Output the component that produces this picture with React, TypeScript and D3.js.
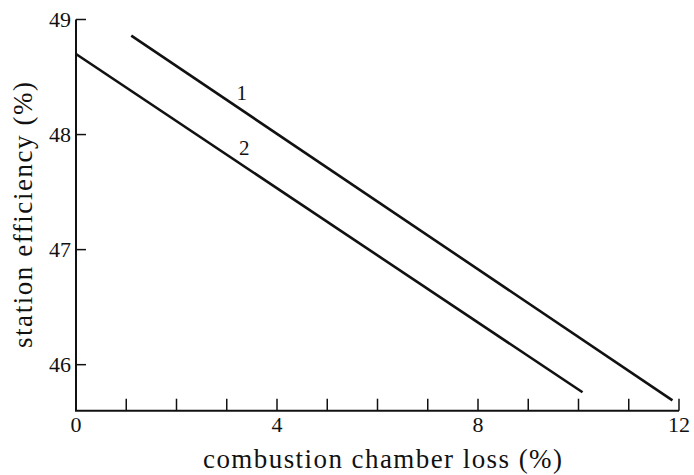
import React from "react";
import * as d3 from "d3";

const xTicksMinor = [0, 1, 2, 3, 4, 5, 6, 7, 8, 9, 10, 11, 12];
const xTickLabels = [0, 4, 8, 12];
const yTicks = [46, 47, 48, 49];
const line1X = [1.1, 11.87];
const line1Y = [48.86, 45.69];
const line2X = [0, 10.08];
const line2Y = [48.7, 45.76];
const seriesLabels = ["1", "2"];
const labelPos = [
  { x: 3.3, y: 48.3 },
  { x: 3.35, y: 47.82 },
];

export default function App() {
  const W = 694;
  const H = 475;
  const x = d3.scaleLinear().domain([0, 12]).range([76, 679]);
  const y = d3.scaleLinear().domain([45.6, 49]).range([410.7, 19.5]);
  const line = d3
    .line<[number, number]>()
    .x((d) => x(d[0]))
    .y((d) => y(d[1]));
  const s1: [number, number][] = line1X.map((v, i) => [v, line1Y[i]]);
  const s2: [number, number][] = line2X.map((v, i) => [v, line2Y[i]]);
  const font = "'Liberation Serif', 'DejaVu Serif', serif";
  const base = y(45.6);
  return (
    <svg
      width={W}
      height={H}
      style={{ position: "absolute", left: 0, top: 0, background: "#fff" }}
      fontFamily={font}
    >
      <rect width={W} height={H} fill="#fff" />
      {/* axes */}
      <line x1={x(0)} x2={x(0)} y1={y(49)} y2={base} stroke="#111" strokeWidth={2} />
      <line x1={x(0) - 1} x2={x(12)} y1={base} y2={base} stroke="#111" strokeWidth={2} />
      {xTicksMinor.slice(1).map((t) => (
        <line key={t} x1={x(t)} x2={x(t)} y1={base} y2={base - 12} stroke="#111" strokeWidth={1.5} />
      ))}
      {yTicks.map((t) => (
        <line key={t} x1={x(0)} x2={x(0) + 10} y1={y(t)} y2={y(t)} stroke="#111" strokeWidth={1.5} />
      ))}
      {xTickLabels.map((t) => (
        <text key={t} x={x(t)} y={432} fontSize={22} textAnchor="middle" fill="#111">
          {t}
        </text>
      ))}
      {yTicks.map((t) => (
        <text key={t} x={71} y={y(t) + 7.5} fontSize={22} textAnchor="end" fill="#111">
          {t}
        </text>
      ))}
      {/* series */}
      <path d={line(s1) || ""} fill="none" stroke="#111" strokeWidth={2.6} />
      <path d={line(s2) || ""} fill="none" stroke="#111" strokeWidth={2.6} />
      {seriesLabels.map((l, i) => (
        <text key={l} x={x(labelPos[i].x)} y={y(labelPos[i].y)} fontSize={21} textAnchor="middle" fill="#111">
          {l}
        </text>
      ))}
      {/* axis titles */}
      <text
        x={382.5}
        y={468}
        fontSize={27}
        textAnchor="middle"
        textLength={359}
        lengthAdjust="spacing"
        fill="#111"
      >
        combustion chamber loss (%)
      </text>
      <text
        transform={`translate(32, 215) rotate(-90)`}
        fontSize={27}
        textAnchor="middle"
        textLength={266}
        lengthAdjust="spacing"
        fill="#111"
      >
        station efficiency (%)
      </text>
    </svg>
  );
}
